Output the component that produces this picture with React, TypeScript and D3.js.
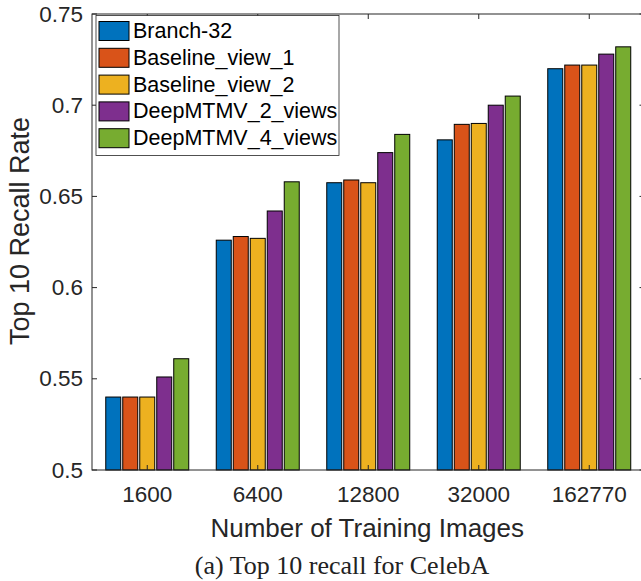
import React from "react";
import * as d3 from "d3";

const categories = ["1600", "6400", "12800", "32000", "162770"];
const seriesNames = ["Branch-32", "Baseline_view_1", "Baseline_view_2", "DeepMTMV_2_views", "DeepMTMV_4_views"];
const branch32 = [0.540, 0.626, 0.6575, 0.681, 0.720];
const baselineView1 = [0.540, 0.628, 0.659, 0.6895, 0.722];
const baselineView2 = [0.540, 0.627, 0.6575, 0.690, 0.722];
const deep2 = [0.551, 0.642, 0.674, 0.700, 0.728];
const deep4 = [0.561, 0.658, 0.684, 0.705, 0.732];
const seriesValues = [branch32, baselineView1, baselineView2, deep2, deep4];
const colors = ["#0072BD", "#D95319", "#EDB120", "#7E2F8E", "#77AC30"];
const yTicks = [0.5, 0.55, 0.6, 0.65, 0.7, 0.75];
const yTickLabels = ["0.5", "0.55", "0.6", "0.65", "0.7", "0.75"];

const W = 641, H = 581;
const L = 92, R = 644.5, T = 14, B = 470;
const axisColor = "#262626";
const sans = "'Liberation Sans', Arial, sans-serif";

export default function App() {
  const y = d3.scaleLinear().domain([0.5, 0.75]).range([B, T]);
  const x0 = d3.scaleBand<string>().domain(categories).range([L, R]).paddingInner(0.249).paddingOuter(0.1245);
  const x1 = d3.scaleBand<string>().domain(seriesNames).range([0, x0.bandwidth()]).paddingInner(2 / 17).paddingOuter(0);
  const tick = 5;

  return (
    <svg width={W} height={H} style={{ position: "absolute", left: 0, top: 0, overflow: "hidden", background: "#fff" }}>
      <rect x={0} y={0} width={W} height={H} fill="#fff" />
      {/* bars */}
      {categories.map((c, ci) => (
        <g key={c}>
          {seriesNames.map((s, si) => {
            const v = seriesValues[si][ci];
            return (
              <rect key={s} x={(x0(c) ?? 0) + (x1(s) ?? 0)} y={y(v)} width={x1.bandwidth()} height={B - y(v)}
                fill={colors[si]} stroke="#000" strokeWidth={1} />
            );
          })}
        </g>
      ))}
      {/* axes box */}
      <rect x={L} y={T} width={R - L} height={B - T} fill="none" stroke={axisColor} strokeWidth={1} />
      {/* y ticks */}
      {yTicks.map((t, i) => (
        <g key={t}>
          <line x1={L} x2={L + tick} y1={y(t)} y2={y(t)} stroke={axisColor} />
          <line x1={R} x2={R - tick} y1={y(t)} y2={y(t)} stroke={axisColor} />
          <text x={83} y={y(t)} textAnchor="end" dominantBaseline="central" fontFamily={sans} fontSize={22.5} fill={axisColor}>
            {yTickLabels[i]}
          </text>
        </g>
      ))}
      {/* x ticks */}
      {categories.map((c) => {
        const cx = (x0(c) ?? 0) + x0.bandwidth() / 2;
        return (
          <g key={c}>
            <line x1={cx} x2={cx} y1={B} y2={B - tick} stroke={axisColor} />
            <line x1={cx} x2={cx} y1={T} y2={T + tick} stroke={axisColor} />
            <text x={cx} y={502} textAnchor="middle" fontFamily={sans} fontSize={22.5} fill={axisColor}>{c}</text>
          </g>
        );
      })}
      {/* axis labels */}
      <text x={(L + R) / 2 - 1} y={537} textAnchor="middle" fontFamily={sans} fontSize={26} fill={axisColor}>
        Number of Training Images
      </text>
      <text transform={`translate(29,231) rotate(-90)`} textAnchor="middle" fontFamily={sans} fontSize={27} fill={axisColor}>
        Top 10 Recall Rate
      </text>
      {/* legend */}
      <g>
        <rect x={96} y={15.5} width={243} height={140} fill="#fff" stroke={axisColor} strokeWidth={0.8} />
        {seriesNames.map((s, i) => {
          const cy = 31 + i * 26.8;
          return (
            <g key={s}>
              <rect x={99} y={cy - 9.5} width={30} height={19} fill={colors[i]} stroke="#000" strokeWidth={1} />
              <text x={133} y={cy} dominantBaseline="central" fontFamily={sans} fontSize={21.5} fill="#000">{s}</text>
            </g>
          );
        })}
      </g>
      {/* caption */}
      <text x={342} y={574} textAnchor="middle" fontFamily="'Liberation Serif', 'Times New Roman', serif" fontSize={26} fill="#222">
        (a) Top 10 recall for CelebA
      </text>
    </svg>
  );
}
